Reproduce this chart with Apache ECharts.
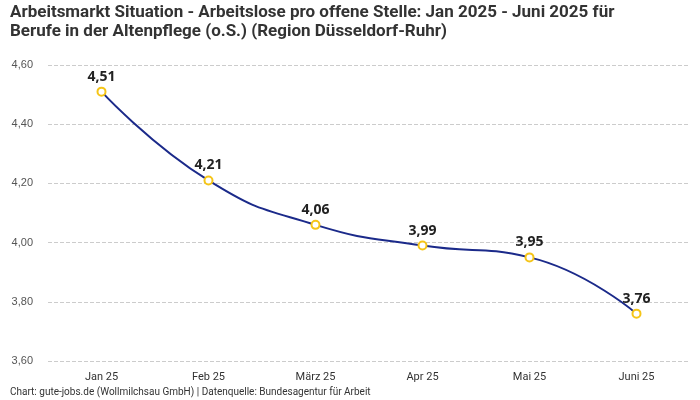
<!DOCTYPE html>
<html><head><meta charset="utf-8">
<script src="https://cdn.jsdelivr.net/npm/echarts@6/dist/echarts.min.js"></script>
<style>html,body{margin:0;padding:0;background:#fff}#c{width:700px;height:400px}</style>
</head><body><div id="c"></div>
<script>
const categories = ['Jan 25','Feb 25','März 25','Apr 25','Mai 25','Juni 25'];
const values = [4.51, 4.21, 4.06, 3.99, 3.95, 3.76];
const titleText = 'Arbeitsmarkt Situation - Arbeitslose pro offene Stelle: Jan 2025 - Juni 2025 für\nBerufe in der Altenpflege (o.S.) (Region Düsseldorf-Ruhr)';
const footerText = 'Chart: gute-jobs.de (Wollmilchsau GmbH) | Datenquelle: Bundesagentur für Arbeit';
const fmt = v => v.toFixed(2).replace('.', ',');
const chart = echarts.init(document.getElementById('c'));
chart.setOption({
  animation: false,
  title: [{
    text: titleText, left: 10, top: 3, padding: 0,
    textStyle: {fontFamily: 'Roboto, sans-serif', fontWeight: 'bold', fontSize: 17, lineHeight: 19, color: '#333'}
  }, {
    text: footerText, left: 10, top: 387, padding: 0,
    textStyle: {fontFamily: 'Roboto, sans-serif', fontWeight: 'normal', fontSize: 10, color: '#333'}
  }],
  grid: {left: 48, right: 10, top: 65, bottom: 39},
  xAxis: {
    type: 'category', data: categories, boundaryGap: true,
    axisLine: {show: false}, axisTick: {show: false},
    axisLabel: {color: '#333', fontSize: 11, margin: 11, fontFamily: 'Roboto, sans-serif'}
  },
  yAxis: {
    type: 'value', min: 3.6, max: 4.6, interval: 0.2,
    axisLabel: {formatter: fmt, color: '#555', fontSize: 11, margin: 15, fontFamily: 'Liberation Sans, Arial, sans-serif'},
    splitLine: {lineStyle: {type: 'dashed', color: '#ccc'}}
  },
  series: [{
    type: 'line', data: values, smooth: true,
    symbol: 'circle', symbolSize: 8,
    lineStyle: {color: '#1b2a8a', width: 2},
    itemStyle: {color: '#fff', borderColor: '#f5c518', borderWidth: 2},
    label: {show: true, position: 'top', distance: 3, formatter: p => fmt(p.value), fontSize: 14, fontWeight: 'bold', color: '#222', fontFamily: 'Noto Sans, sans-serif'}
  }]
});
</script></body></html>
